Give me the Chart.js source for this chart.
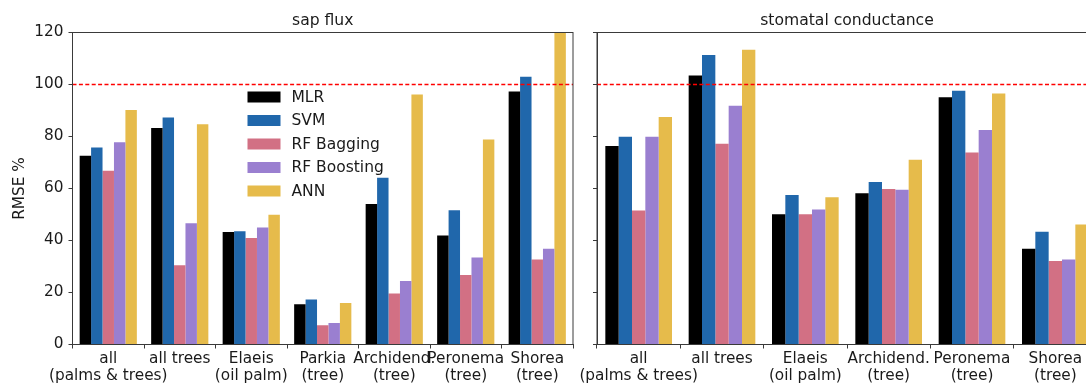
<!DOCTYPE html>
<html>
<head>
<meta charset="utf-8">
<script src="https://cdn.jsdelivr.net/npm/chart.js@4.4.1/dist/chart.umd.min.js"></script>
<style>
  html, body { margin: 0; padding: 0; background: #ffffff; overflow: hidden; width: 1086px; height: 385px; }
  #left  { position: absolute; left: 0;     top: 0; width: 585px; height: 385px; }
  #right { position: absolute; left: 580px; top: 0; width: 520px; height: 385px; }
</style>
</head>
<body>
<div id="left"><canvas id="sapChart"></canvas></div>
<div id="right"><canvas id="gsChart"></canvas></div>
<script>
// Model names and bar colours
const methods = ['MLR', 'SVM', 'RF Bagging', 'RF Boosting', 'ANN'];
const methodColors = ['#000000', '#2067ab', '#d27084', '#9a7fd0', '#e6bb4b'];

// Y axis
const yTicks = [0, 20, 40, 60, 80, 100, 120];
const refLevel = 100;

// Sap flux panel
const sapCategories = [
  ['all', '(palms & trees)'], ['all trees'], ['Elaeis', '(oil palm)'], ['Parkia', '(tree)'],
  ['Archidend.', '(tree)'], ['Peronema', '(tree)'], ['Shorea', '(tree)']
];
const sapMLR       = [72.6, 83.3, 43.3, 15.5, 54.0, 41.9, 97.3];
const sapSVM       = [75.8, 87.3, 43.6, 17.3, 64.1, 51.6, 103.0];
const sapRFBagging = [66.8, 30.5, 41.0, 7.4, 19.6, 26.7, 32.7];
const sapRFBoost   = [77.8, 46.6, 45.0, 8.3, 24.4, 33.5, 36.8];
const sapANN       = [90.2, 84.7, 49.9, 16.0, 96.2, 78.8, 122.0];

// Stomatal conductance panel
const gsCategories = [
  ['all', '(palms & trees)'], ['all trees'], ['Elaeis', '(oil palm)'],
  ['Archidend.', '(tree)'], ['Peronema', '(tree)'], ['Shorea', '(tree)']
];
const gsMLR       = [76.3, 103.5, 50.1, 58.2, 95.1, 36.8];
const gsSVM       = [79.9, 111.3, 57.5, 62.5, 97.6, 43.4];
const gsRFBagging = [51.5, 77.2, 50.1, 59.8, 73.8, 32.1];
const gsRFBoost   = [79.9, 91.8, 51.9, 59.5, 82.5, 32.7];
const gsANN       = [87.5, 113.4, 56.6, 71.1, 96.5, 46.2];

const FONT = 'DejaVu Sans';
const TEXT = '#1a1a1a';
const AXIS = '#3a3a3a';
const TICK_SIZE = 15.3;
const TITLE_SIZE = 15.6;

function makeDatasets(series) {
  return series.map((values, i) => ({
    label: methods[i],
    data: values,
    backgroundColor: methodColors[i],
    borderWidth: 0,
    categoryPercentage: 0.8,
    barPercentage: 1.0
  }));
}

// Full box around the plotting area
const framePlugin = {
  id: 'frame',
  afterDraw(chart) {
    const { ctx, chartArea: a } = chart;
    ctx.save();
    ctx.strokeStyle = AXIS;
    ctx.lineWidth = 1;
    ctx.strokeRect(a.left, a.top, a.right - a.left, a.bottom - a.top);
    ctx.restore();
  }
};

// Dashed reference line at 100 %
const refLinePlugin = {
  id: 'refLine',
  afterDatasetsDraw(chart) {
    const { ctx, chartArea: a, scales } = chart;
    const y = Math.round(scales.y.getPixelForValue(refLevel)) + 0.5;
    ctx.save();
    ctx.strokeStyle = '#ff0000';
    ctx.lineWidth = 1.3;
    ctx.setLineDash([4, 2.4]);
    ctx.beginPath();
    ctx.moveTo(a.left, y);
    ctx.lineTo(a.right, y);
    ctx.stroke();
    ctx.restore();
  }
};

// Legend drawn inside the sap flux panel
const insideLegendPlugin = {
  id: 'insideLegend',
  afterDraw(chart) {
    const { ctx, chartArea: a } = chart;
    const x0 = a.left + 175, y0 = a.top + 59, rowH = 23.5, sw = 33, sh = 11;
    ctx.save();
    ctx.font = '15.5px "' + FONT + '"';
    ctx.textBaseline = 'middle';
    ctx.textAlign = 'left';
    chart.data.datasets.forEach((ds, i) => {
      const y = y0 + i * rowH;
      ctx.fillStyle = ds.backgroundColor;
      ctx.fillRect(x0, y, sw, sh);
      ctx.fillStyle = TEXT;
      ctx.fillText(ds.label, x0 + sw + 11, y + sh / 2 + 0.5);
    });
    ctx.restore();
  }
};

function baseOptions(titleText, yAxisWidth, showYLabels, rightPad) {
  return {
    responsive: true,
    maintainAspectRatio: false,
    animation: false,
    layout: { padding: { left: 0, right: rightPad, top: 0, bottom: 0 } },
    plugins: {
      legend: { display: false },
      tooltip: { enabled: false },
      title: {
        display: true,
        text: titleText,
        fullSize: false,
        color: TEXT,
        font: { family: FONT, size: TITLE_SIZE, weight: 'normal', lineHeight: 1.2 },
        padding: { top: 11.2, bottom: 32.5 - 11.2 - TITLE_SIZE * 1.2 }
      }
    },
    scales: {
      x: {
        type: 'category',
        offset: true,
        grid: { display: true, drawOnChartArea: false, drawTicks: true, tickLength: 4, color: AXIS },
        border: { display: true, color: AXIS, width: 1 },
        ticks: {
          color: TEXT, font: { family: FONT, size: TICK_SIZE, lineHeight: 1.1 },
          padding: 2.5, maxRotation: 0, minRotation: 0, autoSkip: false
        },
        afterFit(scale) {
          scale.height = 40.5;
          // labels may spill past the plot edges; keep the plot width fixed
          scale.paddingLeft = 0;
          scale.paddingRight = 0;
        }
      },
      y: {
        min: 0,
        max: 120,
        afterBuildTicks(scale) { scale.ticks = yTicks.map(v => ({ value: v })); },
        grid: { display: true, drawOnChartArea: false, drawTicks: true, tickLength: 4, color: AXIS },
        border: { display: true, color: AXIS, width: 1 },
        ticks: {
          display: showYLabels,
          color: TEXT, font: { family: FONT, size: TICK_SIZE }, padding: 5
        },
        title: {
          display: showYLabels,
          text: 'RMSE %',
          color: TEXT,
          font: { family: FONT, size: TICK_SIZE, lineHeight: 1.2 },
          padding: { top: 10.8, bottom: 0 }
        },
        afterFit(scale) {
          scale.width = yAxisWidth;
          scale.paddingTop = 0;
          scale.paddingBottom = 0;
        }
      }
    }
  };
}

new Chart(document.getElementById('sapChart'), {
  type: 'bar',
  data: {
    labels: sapCategories,
    datasets: makeDatasets([sapMLR, sapSVM, sapRFBagging, sapRFBoost, sapANN])
  },
  options: baseOptions('sap flux', 72.5, true, 12),
  plugins: [refLinePlugin, framePlugin, insideLegendPlugin]
});

new Chart(document.getElementById('gsChart'), {
  type: 'bar',
  data: {
    labels: gsCategories,
    datasets: makeDatasets([gsMLR, gsSVM, gsRFBagging, gsRFBoost, gsANN])
  },
  options: baseOptions('stomatal conductance', 17, false, 3),
  plugins: [refLinePlugin, framePlugin]
});
</script>
</body>
</html>
